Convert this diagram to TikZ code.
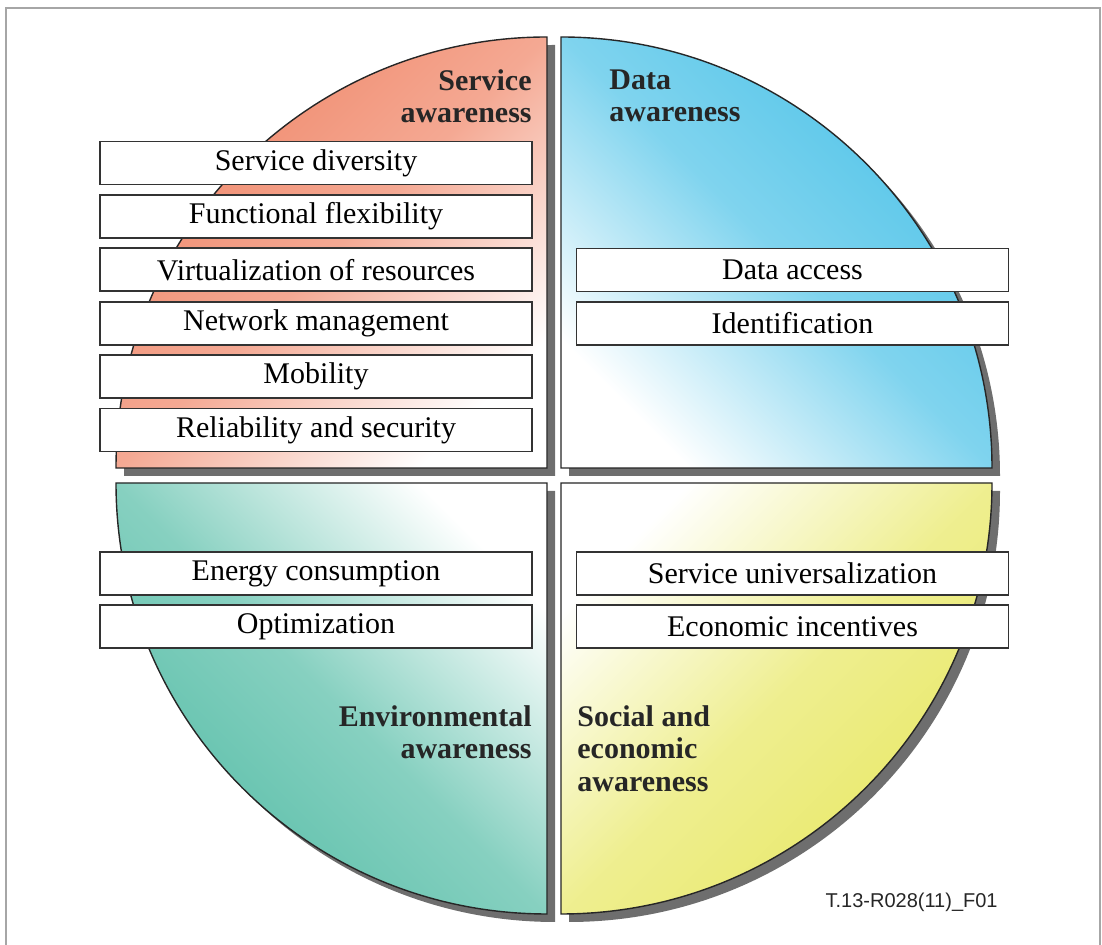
\documentclass[tikz,border=0pt]{standalone}
\usepackage{fontspec}
\setmainfont{Liberation Serif}
\newfontfamily\figlabelfont{Liberation Sans}
\usepackage{xcolor}
\usepackage{tikz}

\definecolor{serviceorange}{RGB}{240,135,105}
\definecolor{datablue}{RGB}{78,195,232}
\definecolor{envteal}{RGB}{88,190,168}
\definecolor{socialyellow}{RGB}{232,232,100}

\begin{document}
\begin{tikzpicture}[x=0.5pt, y=0.5pt, node distance=26.7pt,
    item/.style={draw=black!80, line width=0.9pt, fill=white, rectangle, minimum width=216pt, minimum height=21.5pt, inner sep=0pt, font=\fontsize{15}{18}\selectfont},
    quarter/.style={draw=black!85, line width=0.7pt},
    drop/.style={fill=black!57},
    title/.style={inner sep=0pt, text=black!85, font=\fontsize{15}{16.3}\selectfont\bfseries}]
    \useasboundingbox (0,0) rectangle (1102,945);
    \draw [black!35, line width=0.9pt] (6,-10) -- (6,937) -- (1100,937) -- (1100,-10);

    % shadows behind the four quarters
    \fill [drop, shift={(8,-8)}] (547,477) -- (116,477) arc[start angle=180, end angle=90, radius=431] -- cycle;
    \fill [drop, shift={(8,-8)}] (561,477) -- (561,908) arc[start angle=90, end angle=0, radius=431] -- cycle;
    \fill [drop, shift={(8,-8)}] (547,462) -- (116,462) arc[start angle=180, end angle=270, radius=431] -- cycle;
    \fill [drop, shift={(8,-8)}] (561,462) -- (992,462) arc[start angle=0, end angle=-90, radius=431] -- cycle;

    % the four quarters
    \shadedraw [quarter, top color=serviceorange, bottom color=white, middle color=serviceorange!72!white, shading angle=45] (547,477) -- (116,477) arc[start angle=180, end angle=90, radius=431] -- cycle;
    \shadedraw [quarter, top color=datablue, bottom color=white, middle color=datablue!72!white, shading angle=-45] (561,477) -- (561,908) arc[start angle=90, end angle=0, radius=431] -- cycle;
    \shadedraw [quarter, top color=white, bottom color=envteal, middle color=envteal!72!white, shading angle=-45] (547,462) -- (116,462) arc[start angle=180, end angle=270, radius=431] -- cycle;
    \shadedraw [quarter, top color=white, bottom color=socialyellow, middle color=socialyellow!72!white, shading angle=45] (561,462) -- (992,462) arc[start angle=0, end angle=-90, radius=431] -- cycle;

    \node [title, anchor=north east, align=right] (service) at (532,876) {Service\\awareness};
    \node [title, anchor=north west, align=left] (data) at (609,876) {Data\\awareness};
    \node [title, anchor=north east, align=right] (environment) at (532,240) {Environmental\\awareness};
    \node [title, anchor=north west, align=left] (social) at (577,240) {Social and\\economic\\awareness};

    \node [item] (diversity) at (316,782) {Service diversity};
    \node [item, below of=diversity] (flexibility) {Functional flexibility};
    \node [item, below of=flexibility] (virtualization) {Virtualization of resources};
    \node [item, below of=virtualization] (management) {Network management};
    \node [item, below of=management] (mobility) {Mobility};
    \node [item, below of=mobility] (reliability) {Reliability and security};

    \node [item] (access) at (792.5,675) {Data access};
    \node [item, below of=access] (identification) {Identification};

    \node [item] (energy) at (316,371.5) {Energy consumption};
    \node [item, below of=energy] (optimization) {Optimization};

    \node [item] (universal) at (792.5,371.5) {Service universalization};
    \node [item, below of=universal] (incentives) {Economic incentives};

    \node [anchor=base east, inner sep=0pt, text=black!85, font=\figlabelfont\fontsize{10}{12}\selectfont] (figid) at (998,37) {T.13-R028(11)\_F01};
\end{tikzpicture}
\end{document}
